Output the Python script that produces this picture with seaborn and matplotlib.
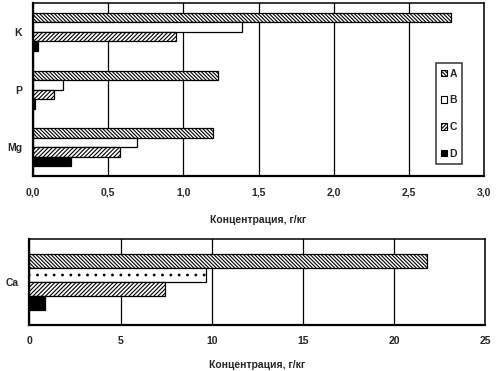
import pandas as pd
import numpy as np

import matplotlib
matplotlib.use("Agg")
import matplotlib.pyplot as plt
import seaborn as sns
from matplotlib.patches import Patch

# data
elements = ["K", "P", "Mg"]
samples = ["A", "B", "C", "D"]
vals_A = [2.78, 1.23, 1.20]
vals_B = [1.39, 0.20, 0.69]
vals_C = [0.95, 0.14, 0.58]
vals_D = [0.03, 0.01, 0.25]

ca_element = ["Ca"]
ca_A = [21.8]
ca_B = [9.7]
ca_C = [7.45]
ca_D = [0.85]

top_ticks = [0, 0.5, 1.0, 1.5, 2.0, 2.5, 3.0]
top_ticklabels = ["0,0", "0,5", "1,0", "1,5", "2,0", "2,5", "3,0"]
bot_ticks = [0, 5, 10, 15, 20, 25]
bot_ticklabels = ["0", "5", "10", "15", "20", "25"]
xlabel = "Концентрация, г/кг"

sns.set_style("white")
plt.rcParams["font.family"] = ["Liberation Sans", "DejaVu Sans"]
plt.rcParams["font.weight"] = "bold"
plt.rcParams["hatch.linewidth"] = 0.8

df_top = pd.DataFrame({
    "element": np.repeat(elements, 4),
    "sample": samples * 3,
    "value": [v for row in zip(vals_A, vals_B, vals_C, vals_D) for v in row],
})
df_ca = pd.DataFrame({
    "element": ca_element * 4,
    "sample": samples,
    "value": ca_A + ca_B + ca_C + ca_D,
})

pal = {"A": "white", "B": "white", "C": "white", "D": "black"}
hatch_top = {"A": "\\" * 9, "B": "", "C": "/" * 8, "D": ""}
hatch_bot = {"A": "\\" * 9, "B": "..", "C": "/" * 8, "D": ""}
hatch_leg = {"A": "\\" * 9, "B": "", "C": "/" * 9, "D": ""}

fig = plt.figure(figsize=(4.98, 3.71), dpi=100)
ax = fig.add_axes([0.0663, 0.5256, 0.906, 0.466])
ax2 = fig.add_axes([0.0592, 0.124, 0.915, 0.232])


def draw(axis, data, hatches, ticks, ticklabels, xmax, lpad):
    sns.barplot(data=data, x="value", y="element", hue="sample", orient="h",
                palette=pal, width=0.66, edgecolor="black", linewidth=0.9,
                legend=False, ax=axis)
    for cont, s in zip(axis.containers, samples):
        for bar in cont:
            bar.set_hatch(hatches[s])
    axis.set_xlim(0, xmax)
    axis.set_xticks(ticks)
    axis.set_xticklabels(ticklabels)
    axis.grid(axis="x", color="black", linewidth=0.9)
    axis.set_axisbelow(True)
    axis.tick_params(length=0, labelsize=7.5, pad=8)
    axis.set_xlabel(xlabel, fontsize=7.5, fontweight="bold", labelpad=lpad)
    axis.set_ylabel("")
    for sp in axis.spines.values():
        sp.set_color("black")
        sp.set_linewidth(1.1)
    axis.spines["left"].set_linewidth(1.6)
    axis.spines["bottom"].set_linewidth(1.6)


draw(ax, df_top, hatch_top, top_ticks, top_ticklabels, 3.0, 13)
ax.set_ylim(2.5, -0.5)
draw(ax2, df_ca, hatch_bot, bot_ticks, bot_ticklabels, 25, 10)
ax2.set_ylim(0.5, -0.5)

handles = [Patch(facecolor=pal[s], edgecolor="black", hatch=hatch_leg[s], linewidth=0.8)
           for s in samples]
leg = ax.legend(handles, samples, loc="center", bbox_to_anchor=(0.922, 0.361),
                frameon=True, fancybox=False, edgecolor="black",
                handlelength=0.6, handleheight=0.6, handletextpad=0.25,
                labelspacing=1.6, borderpad=0.5, borderaxespad=0,
                prop={"size": 7.5, "weight": "bold"})
leg.get_frame().set_linewidth(1.1)

fig.savefig("out.png", dpi=100)
